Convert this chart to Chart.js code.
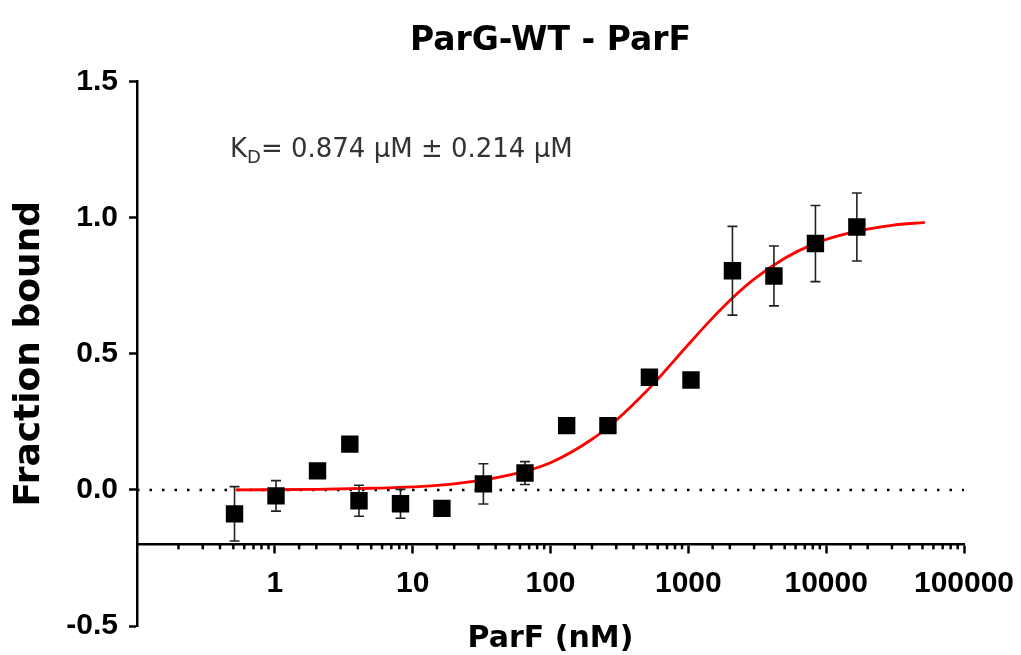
<!DOCTYPE html>
<html>
<head>
<meta charset="utf-8">
<script src="https://cdn.jsdelivr.net/npm/chart.js@4.4.1/dist/chart.umd.min.js"></script>
<style>
  body { margin: 0; background: #fff; }
  #wrap { width: 1021px; height: 655px; }
</style>
</head>
<body>
<div id="wrap"><canvas id="bindingChart" width="1021" height="655"></canvas></div>
<script>
// Measured points (ParF concentration in nM, fraction bound, error)
const concNM = [0.51, 1.02, 2.04, 3.5, 4.08, 8.16, 16.3, 32.6, 65.3, 131, 261, 522, 1045, 2090, 4180, 8360, 16700];
const fractionBound = [-0.088, -0.022, 0.07, 0.168, -0.04, -0.051, -0.068, 0.022, 0.062, 0.236, 0.236, 0.414, 0.404, 0.805, 0.786, 0.905, 0.966];
const fractionErr = [0.1, 0.056, 0, 0, 0.057, 0.053, 0, 0.074, 0.042, 0, 0, 0, 0, 0.163, 0.11, 0.14, 0.125];

// Fitted curve
const fitX = [0.52, 2, 5, 10, 20, 50, 100, 200, 300, 500, 700, 1000, 1500, 2000, 3000, 5000, 8000, 12000, 20000, 30000, 52000];
const fitY = [0.0, 0.002, 0.006, 0.011, 0.022, 0.054, 0.10, 0.186, 0.256, 0.364, 0.445, 0.534, 0.632, 0.696, 0.774, 0.851, 0.902, 0.932, 0.958, 0.972, 0.983];

// Dotted baseline at zero
const zeroX = [0.1, 100000];
const zeroY = [0, 0];

const yTicks = [-0.5, 0, 0.5, 1.0, 1.5];
const kdLabel = { main: 'K', sub: 'D', rest: '= 0.874 \u00b5M \u00b1 0.214 \u00b5M' };

function isDecade(v) {
    const l = Math.log10(v);
    return Math.abs(l - Math.round(l)) < 1e-6 && v >= 1;
}

// error bars, drawn just before the squares
const errorBars = {
    id: 'errorBars',
    beforeDatasetDraw(chart, args) {
        if (args.index !== 0) return;
        const { ctx, scales: { x, y } } = chart;
        ctx.save();
        ctx.strokeStyle = '#222';
        ctx.lineWidth = 1.6;
        concNM.forEach((c, i) => {
            const e = fractionErr[i];
            if (!e) return;
            const px = x.getPixelForValue(c);
            const top = y.getPixelForValue(fractionBound[i] + e);
            const bot = y.getPixelForValue(fractionBound[i] - e);
            ctx.beginPath();
            ctx.moveTo(px, top); ctx.lineTo(px, bot);
            ctx.moveTo(px - 5, top); ctx.lineTo(px + 5, top);
            ctx.moveTo(px - 5, bot); ctx.lineTo(px + 5, bot);
            ctx.stroke();
        });
        ctx.restore();
    }
};

// minor log ticks + KD annotation
const extras = {
    id: 'extras',
    afterDraw(chart) {
        const { ctx, scales: { x, y } } = chart;
        const axisY = y.getPixelForValue(-0.2);
        ctx.save();
        ctx.strokeStyle = '#000';
        ctx.lineWidth = 2.5;
        x.ticks.forEach(t => {
            if (isDecade(t.value) || t.value <= 0.1001) return;
            const px = x.getPixelForValue(t.value);
            ctx.beginPath();
            ctx.moveTo(px, axisY);
            ctx.lineTo(px, axisY + 5);
            ctx.stroke();
        });

        ctx.fillStyle = '#333';
        ctx.textBaseline = 'alphabetic';
        let tx = 230;
        const base = 157;
        ctx.font = '26px "DejaVu Sans"';
        ctx.fillText(kdLabel.main, tx, base);
        tx += ctx.measureText(kdLabel.main).width;
        ctx.font = '18px "DejaVu Sans"';
        ctx.fillText(kdLabel.sub, tx, base + 6);
        tx += ctx.measureText(kdLabel.sub).width;
        ctx.font = '26px "DejaVu Sans"';
        ctx.fillText(kdLabel.rest, tx, base);
        ctx.restore();
    }
};

const ctx = document.getElementById('bindingChart').getContext('2d');
new Chart(ctx, {
    type: 'scatter',
    data: {
        datasets: [{
            label: 'ParG-WT',
            data: concNM.map((c, i) => ({ x: c, y: fractionBound[i] })),
            pointStyle: 'rect',
            pointRadius: 12.3,
            pointHoverRadius: 12.3,
            backgroundColor: '#000',
            borderColor: '#000',
            borderWidth: 0
        }, {
            type: 'line',
            label: 'fit',
            data: fitX.map((v, i) => ({ x: v, y: fitY[i] })),
            borderColor: '#ff0000',
            borderWidth: 2.8,
            pointRadius: 0,
            cubicInterpolationMode: 'monotone',
            fill: false
        }, {
            type: 'line',
            label: 'zero',
            data: zeroX.map((v, i) => ({ x: v, y: zeroY[i] })),
            borderColor: '#000',
            borderWidth: 2.5,
            borderDash: [2.5, 10],
            pointRadius: 0,
            fill: false
        }]
    },
    options: {
        responsive: false,
        animation: false,
        layout: { padding: { left: 0, right: 57, top: 0, bottom: 27 } },
        plugins: {
            legend: { display: false },
            tooltip: { enabled: false },
            title: {
                display: true,
                text: 'ParG-WT - ParF',
                fullSize: false,
                color: '#000',
                font: { family: '"DejaVu Sans"', size: 33, weight: 'bold', lineHeight: 1.2 },
                padding: { top: 22, bottom: 20 }
            }
        },
        scales: {
            x: {
                type: 'logarithmic',
                min: 0.1,
                max: 100000,
                position: { y: -0.2 },
                afterFit: s => { s.paddingRight = 0; s.paddingLeft = 0; },
                border: { display: true, color: '#000', width: 2.5 },
                grid: {
                    drawOnChartArea: false,
                    tickLength: 8,
                    tickWidth: 2.5,
                    tickColor: c => (c.tick && isDecade(c.tick.value)) ? '#000' : 'rgba(0,0,0,0)'
                },
                ticks: {
                    autoSkip: false,
                    maxRotation: 0,
                    padding: 13,
                    color: '#000',
                    font: { family: '"Liberation Sans", Arial', size: 30, weight: 'bold' },
                    callback: v => isDecade(v) ? String(Math.round(v)) : ''
                },
                title: {
                    display: true,
                    text: 'ParF (nM)',
                    color: '#000',
                    font: { family: '"DejaVu Sans"', size: 30, weight: 'bold', lineHeight: 1.2 },
                    padding: { top: 7, bottom: 0 }
                }
            },
            y: {
                min: -0.5,
                max: 1.5,
                afterFit: s => { s.width = 137; },
                afterBuildTicks: s => { s.ticks = yTicks.map(v => ({ value: v })); },
                border: { display: true, color: '#000', width: 2.5 },
                grid: { drawOnChartArea: false, tickLength: 8, tickWidth: 2.5, tickColor: '#000' },
                ticks: {
                    padding: 11,
                    color: '#000',
                    font: { family: '"Liberation Sans", Arial', size: 30, weight: 'bold' },
                    callback: v => v.toFixed(1)
                },
                title: {
                    display: true,
                    text: 'Fraction bound',
                    color: '#000',
                    font: { family: '"DejaVu Sans"', size: 36, weight: 'bold', lineHeight: 1.2 },
                    padding: { top: 8, bottom: 0 }
                }
            }
        }
    },
    plugins: [errorBars, extras]
});
</script>
</body>
</html>
